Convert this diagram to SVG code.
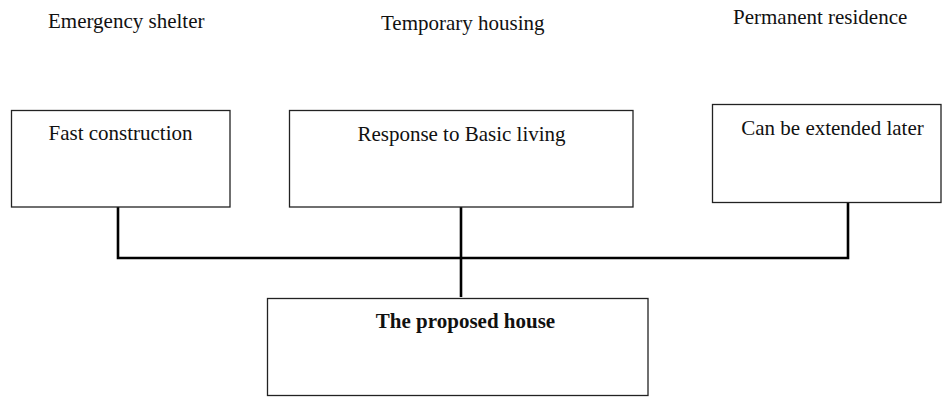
<svg xmlns="http://www.w3.org/2000/svg" width="942" height="397" viewBox="0 0 942 397">
<style>
.bg{fill:#ffffff}
.box{fill:#ffffff;stroke:#222222;stroke-width:1.3}
.t{font-family:"Liberation Serif","Times New Roman",serif;font-size:21px;fill:#111111}
.b{font-weight:bold}
.conn{fill:none;stroke:#000000;stroke-width:2.6}
</style>
<rect class="bg" x="0" y="0" width="942" height="397"/>
<g id="headers">
<text class="t" x="48" y="28">Emergency shelter</text>
<text class="t" x="381" y="30">Temporary housing</text>
<text class="t" x="733" y="24">Permanent residence</text>
</g>
<g id="connectors">
<path class="conn" d="M118 207 V258 H848 V202.5"/>
<path class="conn" d="M461 207 V297"/>
</g>
<g id="node-fast">
<rect class="box" x="11.5" y="110.5" width="218.5" height="96.5"/>
<text class="t" x="120.5" y="140" text-anchor="middle">Fast construction</text>
</g>
<g id="node-response">
<rect class="box" x="289.5" y="110.5" width="343.5" height="96.5"/>
<text class="t" x="461.5" y="141" text-anchor="middle">Response to Basic living</text>
</g>
<g id="node-extend">
<rect class="box" x="712.5" y="104.5" width="228.5" height="98"/>
<text class="t" x="832.5" y="135" text-anchor="middle">Can be extended later</text>
</g>
<g id="node-house">
<rect class="box" x="267.5" y="298.5" width="380.5" height="97"/>
<text class="t b" x="465.5" y="328" text-anchor="middle">The proposed house</text>
</g>
</svg>
